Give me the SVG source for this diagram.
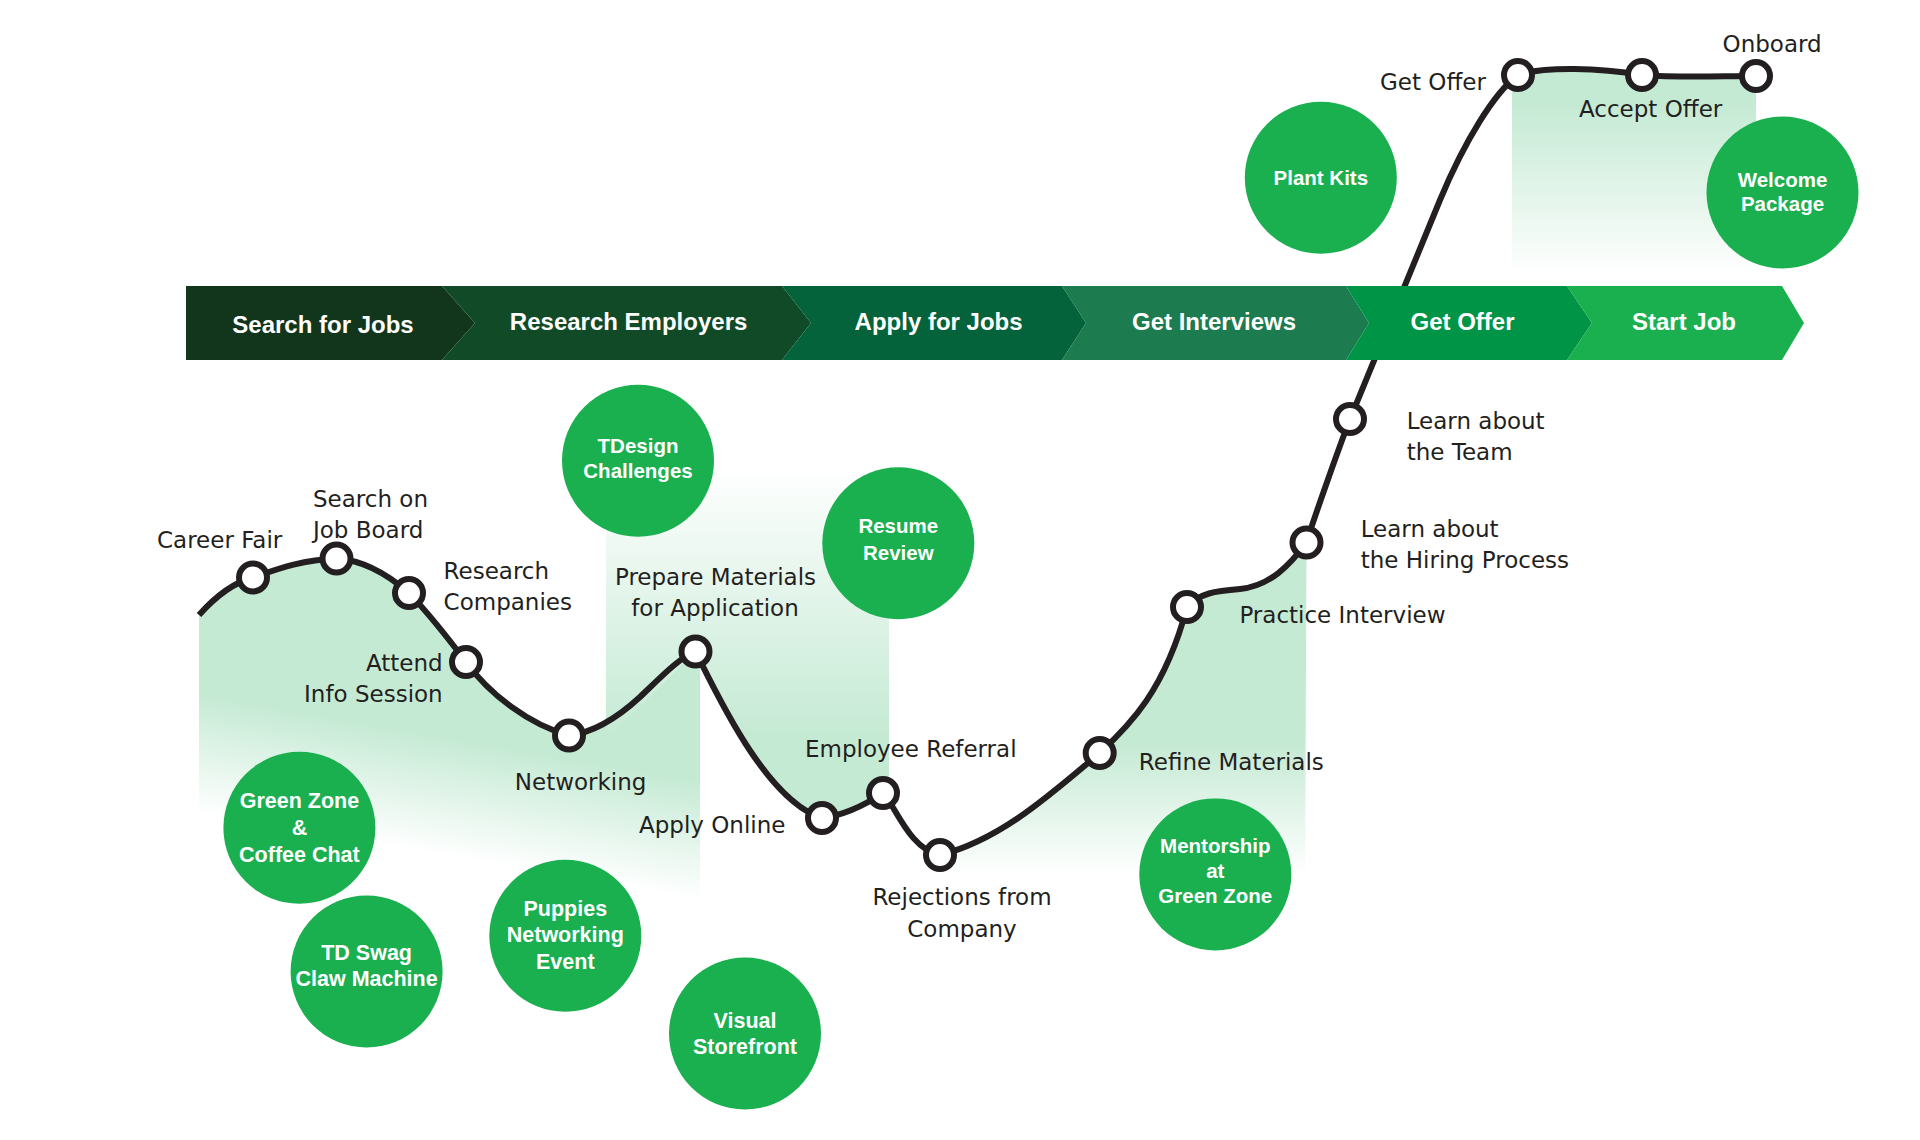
<svg xmlns="http://www.w3.org/2000/svg" width="1920" height="1140" viewBox="0 0 1920 1140">
<defs>
<linearGradient id="gA" gradientUnits="userSpaceOnUse" x1="430" y1="735" x2="410" y2="850">
<stop offset="0" stop-color="#c5ead4"/><stop offset="1" stop-color="#ffffff"/>
</linearGradient>
<linearGradient id="gB" gradientUnits="userSpaceOnUse" x1="0" y1="465" x2="0" y2="735">
<stop offset="0" stop-color="#ffffff"/><stop offset="1" stop-color="#c5ead4"/>
</linearGradient>
<linearGradient id="gD" gradientUnits="userSpaceOnUse" x1="0" y1="745" x2="0" y2="875">
<stop offset="0" stop-color="#c5ead4"/><stop offset="1" stop-color="#ffffff"/>
</linearGradient>
<linearGradient id="gE" gradientUnits="userSpaceOnUse" x1="0" y1="105" x2="0" y2="275">
<stop offset="0" stop-color="#c5ead4"/><stop offset="1" stop-color="#ffffff"/>
</linearGradient>
<style>
.lbl{font-family:"DejaVu Sans","Liberation Sans",sans-serif;font-size:23px;fill:#231f20}
.ban{font-family:"Liberation Sans",Arial,sans-serif;font-weight:bold;font-size:24px;fill:#ffffff;text-anchor:middle}
.ct{font-family:"Liberation Sans",Arial,sans-serif;font-weight:bold;font-size:20.5px;fill:#ffffff;text-anchor:middle}
.ct2{font-family:"Liberation Sans",Arial,sans-serif;font-weight:bold;font-size:21.5px;fill:#ffffff;text-anchor:middle}
.bub{fill:#1aaf4f}
.node{fill:#ffffff;stroke:#231f20;stroke-width:6}
.curve{fill:none;stroke:#231f20;stroke-width:6}
</style>
</defs>
<rect width="1920" height="1140" fill="#ffffff"/>

<g id="shading">
<path fill="url(#gA)" d="M199,615 C215,597 232,583 253,577.5 C275,570 300,560 336.5,558.5 C360,560 385,572 409,593 C430,615 448,638 466,662 C490,695 530,725 569,735.5 C590,733 615,720 640,697 C660,678 680,657 695.5,651.5 L700,655 L700,940 L199,940 Z"/>
<path fill="url(#gB)" d="M606,460 L889,460 L889,793 L883,793 C865,805 845,815 822,818 C765,800 715,690 695.5,651.5 L606,740 Z"/>
<path fill="url(#gD)" d="M940,855 C1000,840 1050,795 1099.7,753 C1130,725 1165,690 1187,607 C1200,593 1215,591 1240,589 C1270,586 1290,565 1306.5,542.5 L1305,900 L940,900 Z"/>
<path fill="url(#gE)" d="M1512,80 L1518,75 C1545,66 1600,68 1642,75 C1680,78 1720,76 1756,76 L1756,280 L1512,280 Z"/>
</g>

<g id="connectors">
<path class="curve" d="M199,615 C215,597 232,583 253,577.5 C275,570 300,560 336.5,558.5 C360,560 385,572 409,593 C430,615 448,638 466,662 C490,695 530,725 569,735.5 C590,733 615,720 640,697 C660,678 680,657 695.5,651.5 C715,690 765,800 822,818 C845,815 865,805 883,793 C895,805 910,850 940,855 C1000,840 1050,795 1099.7,753 C1130,725 1165,690 1187,607 C1200,593 1215,591 1240,589 C1270,586 1290,565 1306.5,542.5 C1315,515 1340,445 1350,419 L1440,200 C1465,140 1495,92 1518,75 C1545,66 1600,68 1642,75 C1680,78 1720,76 1756,76"/>
</g>

<g id="banner">
<g id="stage-search"><polygon fill="#12361c" points="186,286 442,286 475,323 442,360 186,360"/><text class="ban" x="323" y="333">Search for Jobs</text></g>
<g id="stage-research"><polygon fill="#114a26" points="442,286 782,286 811,323 782,360 442,360 475,323"/><text class="ban" x="628.6" y="330">Research Employers</text></g>
<g id="stage-apply"><polygon fill="#04633a" points="782,286 1062,286 1086,323 1062,360 782,360 811,323"/><text class="ban" x="938.6" y="330">Apply for Jobs</text></g>
<g id="stage-interviews"><polygon fill="#1c7b4f" points="1062,286 1346,286 1369,323 1346,360 1062,360 1086,323"/><text class="ban" x="1214" y="330">Get Interviews</text></g>
<g id="stage-offer"><polygon fill="#009446" points="1346,286 1567,286 1592,323 1567,360 1346,360 1369,323"/><text class="ban" x="1462.5" y="330">Get Offer</text></g>
<g id="stage-start"><polygon fill="#1bb04f" points="1567,286 1782,286 1804,323 1782,360 1567,360 1592,323"/><text class="ban" x="1684" y="330">Start Job</text></g>
</g>

<g id="bubbles">
<g id="b-plant"><circle class="bub" cx="1320.8" cy="177.7" r="76"/><text class="ct" x="1320.8" y="185">Plant Kits</text></g>
<g id="b-welcome"><circle class="bub" cx="1782.5" cy="192.5" r="76"/><text class="ct" x="1782.5" y="186.5">Welcome</text><text class="ct" x="1782.5" y="210.5">Package</text></g>
<g id="b-tdesign"><circle class="bub" cx="638" cy="460.7" r="76"/><text class="ct" x="638" y="453.3">TDesign</text><text class="ct" x="638" y="478">Challenges</text></g>
<g id="b-resume"><circle class="bub" cx="898.3" cy="543.3" r="76"/><text class="ct" x="898.3" y="533.3">Resume</text><text class="ct" x="898.3" y="560">Review</text></g>
<g id="b-greenzone"><circle class="bub" cx="299.4" cy="827.8" r="76"/><text class="ct2" x="299.4" y="808.3">Green Zone</text><text class="ct2" x="299.4" y="835">&amp;</text><text class="ct2" x="299.4" y="861.7">Coffee Chat</text></g>
<g id="b-swag"><circle class="bub" cx="366.6" cy="971.5" r="76"/><text class="ct2" x="366.6" y="960">TD Swag</text><text class="ct2" x="366.6" y="986">Claw Machine</text></g>
<g id="b-puppies"><circle class="bub" cx="565.3" cy="935.8" r="76"/><text class="ct2" x="565.3" y="915.5">Puppies</text><text class="ct2" x="565.3" y="942.3">Networking</text><text class="ct2" x="565.3" y="969">Event</text></g>
<g id="b-visual"><circle class="bub" cx="745" cy="1033.5" r="76"/><text class="ct2" x="745" y="1027.7">Visual</text><text class="ct2" x="745" y="1054.3">Storefront</text></g>
<g id="b-mentor"><circle class="bub" cx="1215.3" cy="874.4" r="76"/><text class="ct" x="1215.3" y="853.3">Mentorship</text><text class="ct" x="1215.3" y="877.7">at</text><text class="ct" x="1215.3" y="903.2">Green Zone</text></g>
</g>

<g id="steps">
<g id="n-career"><circle class="node" cx="253" cy="577.5" r="14"/><text class="lbl" x="157" y="548">Career Fair</text></g>
<g id="n-jobboard"><circle class="node" cx="336.5" cy="558.5" r="14"/><text class="lbl" x="313" y="506.7">Search on</text><text class="lbl" x="313" y="538.3">Job Board</text></g>
<g id="n-research"><circle class="node" cx="409" cy="593" r="14"/><text class="lbl" x="443.6" y="579">Research</text><text class="lbl" x="443.6" y="610">Companies</text></g>
<g id="n-info"><circle class="node" cx="466" cy="662" r="14"/><text class="lbl" x="442.7" y="671" text-anchor="end">Attend</text><text class="lbl" x="442.7" y="702.3" text-anchor="end">Info Session</text></g>
<g id="n-networking"><circle class="node" cx="569" cy="735.5" r="14"/><text class="lbl" x="514.8" y="790">Networking</text></g>
<g id="n-prepare"><circle class="node" cx="695.5" cy="651.5" r="14"/><text class="lbl" x="715.5" y="585" text-anchor="middle">Prepare Materials</text><text class="lbl" x="715" y="616" text-anchor="middle">for Application</text></g>
<g id="n-applyonline"><circle class="node" cx="822" cy="818" r="14"/><text class="lbl" x="639" y="833">Apply Online</text></g>
<g id="n-referral"><circle class="node" cx="883" cy="793" r="14"/><text class="lbl" x="805" y="757.3">Employee Referral</text></g>
<g id="n-rejections"><circle class="node" cx="940" cy="855" r="14"/><text class="lbl" x="962" y="905" text-anchor="middle">Rejections from</text><text class="lbl" x="962" y="936.5" text-anchor="middle">Company</text></g>
<g id="n-refine"><circle class="node" cx="1099.7" cy="753" r="14"/><text class="lbl" x="1138.8" y="770.4">Refine Materials</text></g>
<g id="n-practice"><circle class="node" cx="1187" cy="607" r="14"/><text class="lbl" x="1239.4" y="623">Practice Interview</text></g>
<g id="n-hiring"><circle class="node" cx="1306.5" cy="542.5" r="14"/><text class="lbl" x="1360.7" y="537">Learn about</text><text class="lbl" x="1360.7" y="568.3">the Hiring Process</text></g>
<g id="n-team"><circle class="node" cx="1350" cy="419" r="14"/><text class="lbl" x="1406.7" y="429">Learn about</text><text class="lbl" x="1406.7" y="460.4">the Team</text></g>
<g id="n-getoffer"><circle class="node" cx="1518" cy="75" r="14"/><text class="lbl" x="1380" y="90">Get Offer</text></g>
<g id="n-accept"><circle class="node" cx="1642" cy="75" r="14"/><text class="lbl" x="1579" y="116.7">Accept Offer</text></g>
<g id="n-onboard"><circle class="node" cx="1756" cy="76" r="14"/><text class="lbl" x="1722.6" y="51.7">Onboard</text></g>
</g>
</svg>
